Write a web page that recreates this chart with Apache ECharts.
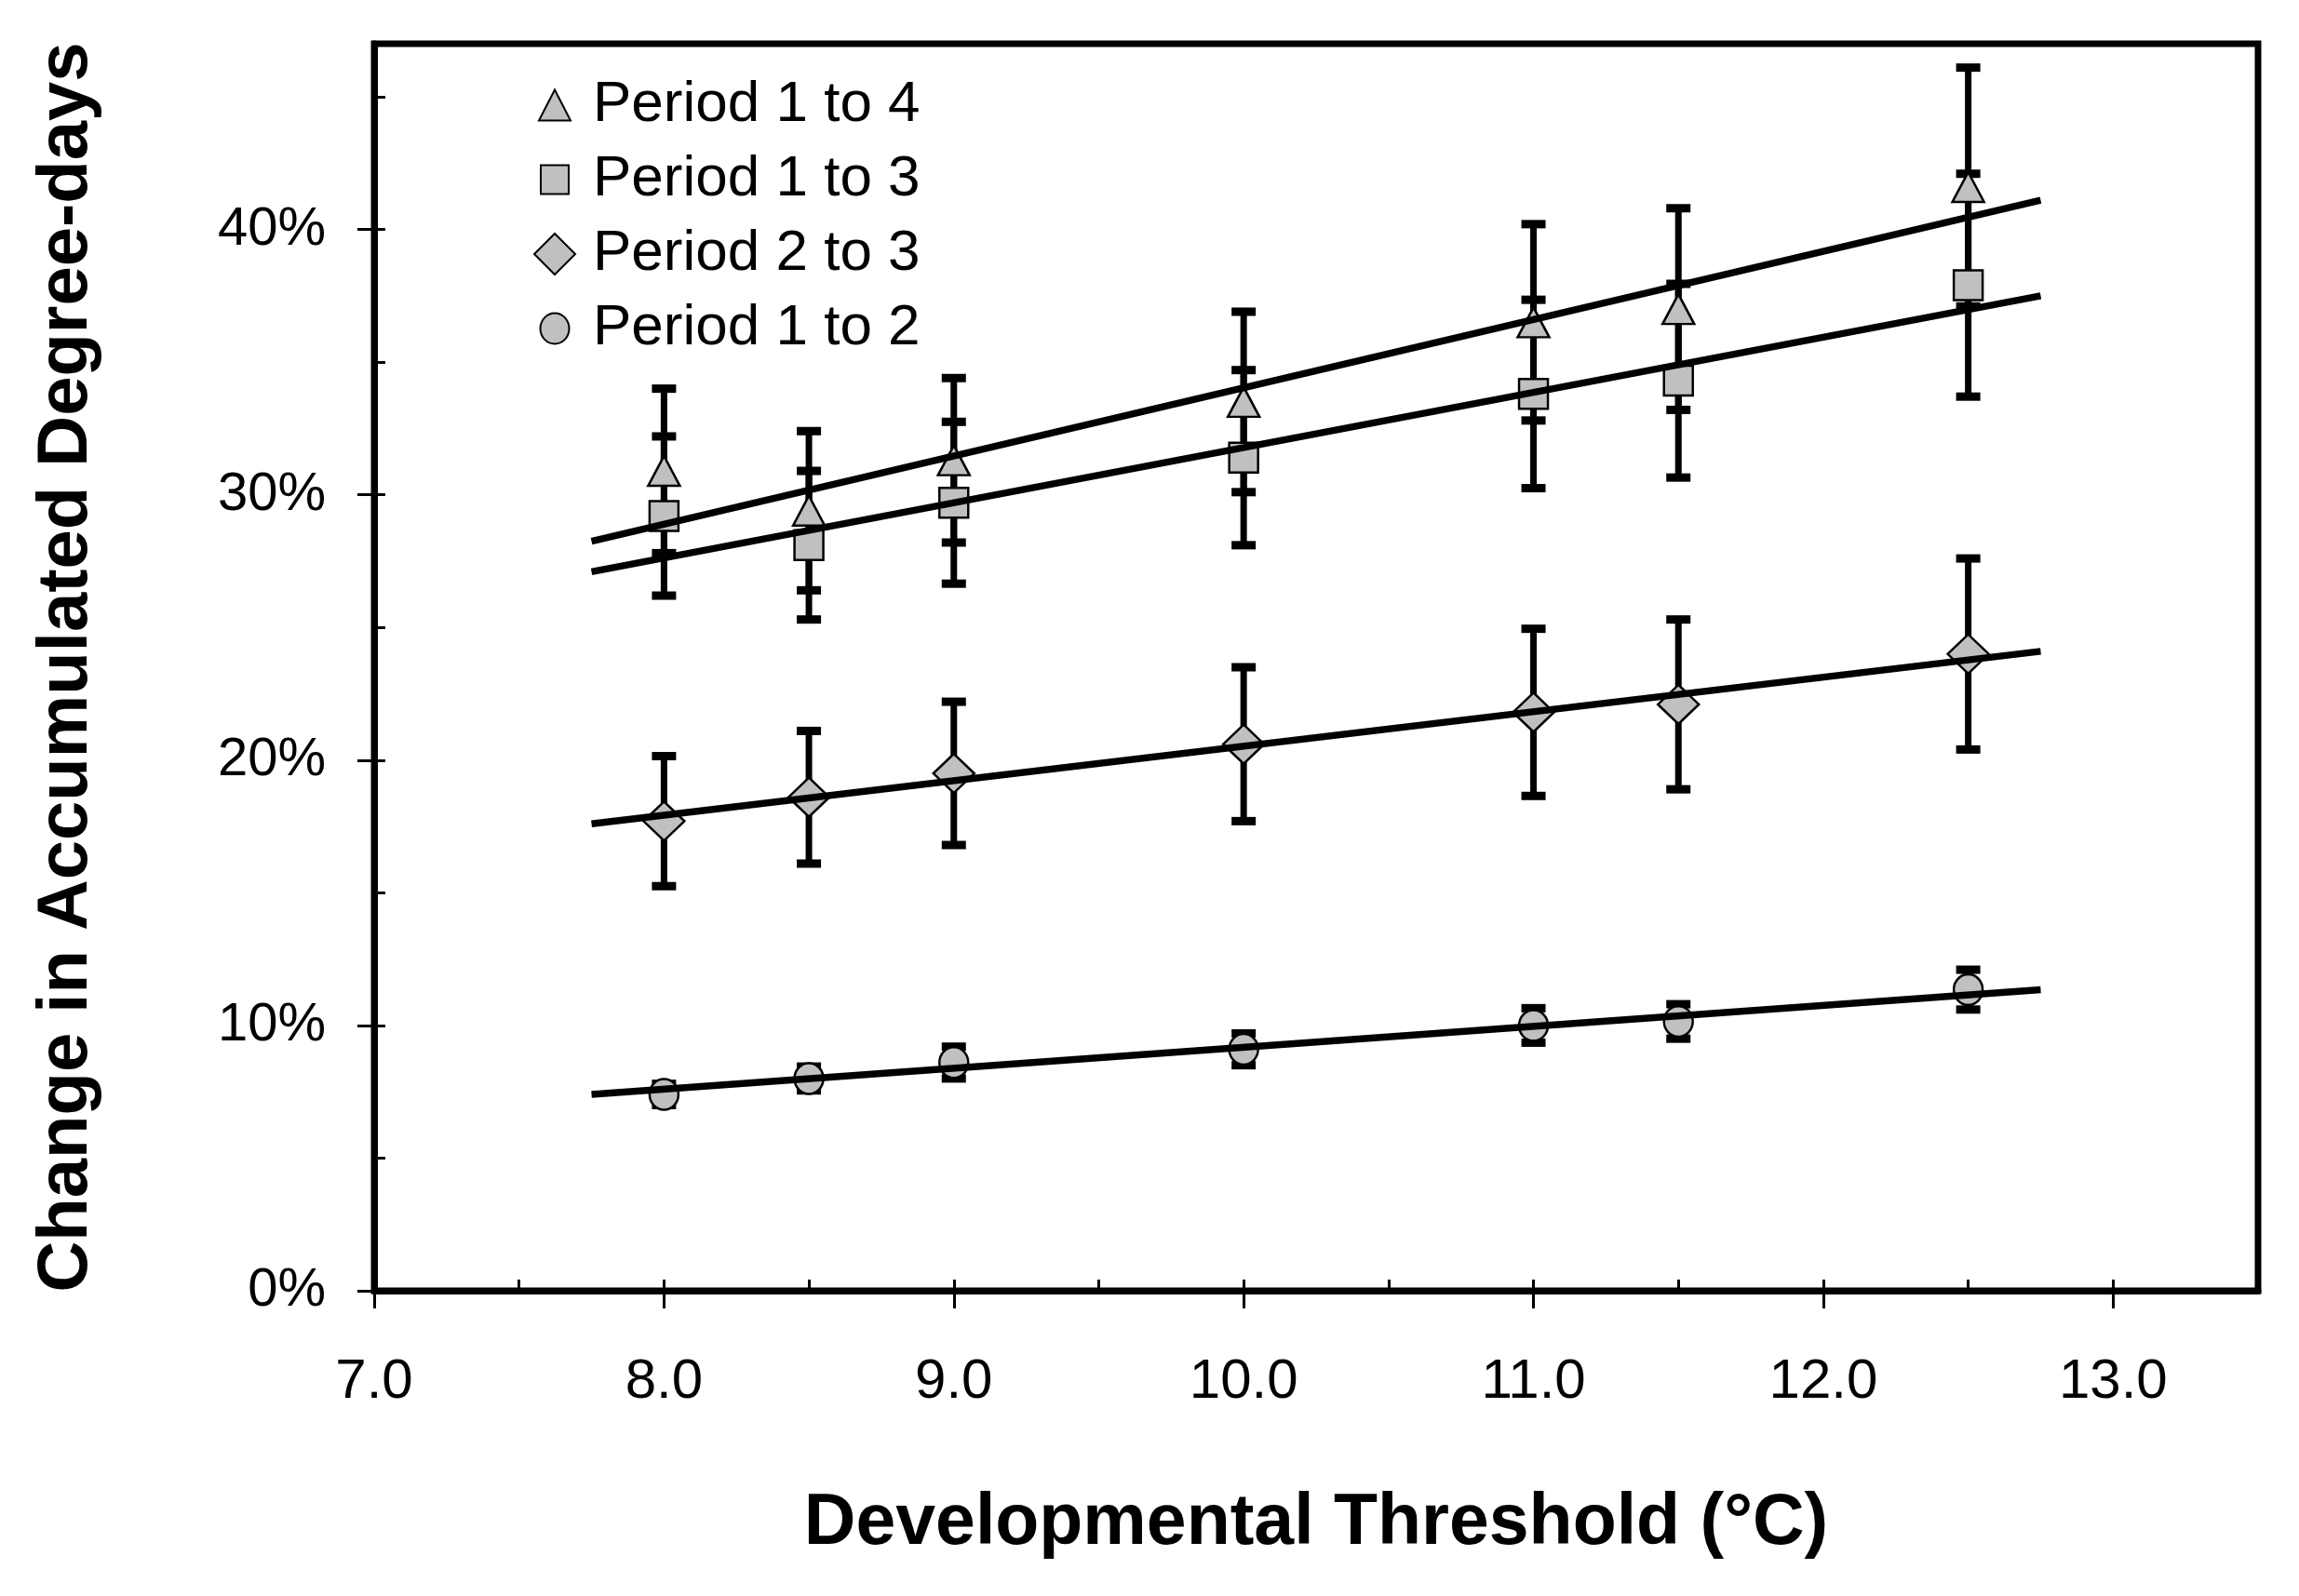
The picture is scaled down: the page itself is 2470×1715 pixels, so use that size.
<!DOCTYPE html>
<html lang="en">
<head>
    <meta charset="UTF-8">
    <title>Change in Accumulated Degree-days</title>
    <style>
        html, body { margin: 0; padding: 0; background: #fff; }
        #container { width: 2470px; height: 1715px; }
    </style>
</head>
<body>
<div id="container"></div>
<script type="text/javascript" src="https://cdn.jsdelivr.net/npm/echarts@6/dist/echarts.min.js"></script>
<script type="text/javascript">
    // Developmental thresholds (°C)
    var thresholds = [8.0, 8.5, 9.0, 10.0, 11.0, 11.5, 12.5];

    // Mean change (%) and error (+/- %) per period pair
    var period14 = [30.9, 29.4, 31.3, 33.5, 36.5, 37.0, 41.6];
    var err14 = [3.1, 3.0, 3.1, 3.4, 3.7, 3.8, 4.5];
    var period13 = [29.2, 28.1, 29.7, 31.4, 33.8, 34.3, 37.9];
    var err13 = [3.0, 2.8, 3.05, 3.3, 3.55, 3.65, 4.2];
    var period23 = [17.7, 18.6, 19.5, 20.6, 21.8, 22.1, 24.0];
    var err23 = [2.45, 2.5, 2.7, 2.9, 3.15, 3.2, 3.6];
    var period12 = [7.4, 8.0, 8.6, 9.1, 10.0, 10.15, 11.35];
    var err12 = [0.4, 0.45, 0.6, 0.6, 0.65, 0.65, 0.75];

    // Trend line end points
    var fitX = [7.75, 12.75];
    var fit14 = [28.25, 41.1];
    var fit13 = [27.1, 37.5];
    var fit23 = [17.6, 24.1];
    var fit12 = [7.4, 11.35];

    var names = ['Period 1 to 4', 'Period 1 to 3', 'Period 2 to 3', 'Period 1 to 2'];

    var font = "'Liberation Sans', Arial, Helvetica, sans-serif";
    var grey = '#c0c0c0';

    // legend icons drawn inside a 44x44 box so the smaller ones keep their size
    var pad = 'M0,0 M44,44 ';
    var legendIcons = [
        'path://' + pad + 'M22,5.5 L39,38.5 L5,38.5 Z',
        'path://' + pad + 'M7,6.5 L37,6.5 L37,37.5 L7,37.5 Z',
        'diamond',
        'path://' + pad + 'M6.5,22 A15.5,16.5 0 1,1 37.5,22 A15.5,16.5 0 1,1 6.5,22 Z'
    ];

    var dom = document.getElementById("container");
    var myChart = echarts.init(dom);

    function points(ys) {
        return thresholds.map(function (x, i) { return [x, ys[i]]; });
    }

    function bars(ys, errs) {
        return thresholds.map(function (x, i) { return [x, ys[i] - errs[i], ys[i] + errs[i]]; });
    }

    function fitLine(ys) {
        return fitX.map(function (x, i) { return [x, ys[i]]; });
    }

    function renderErrorBar(params, api) {
        var x = api.value(0);
        var top = api.coord([x, api.value(2)]);
        var bot = api.coord([x, api.value(1)]);
        var capW = 26, capH = 9;
        return {
            type: 'group',
            children: [
                {type: 'line', shape: {x1: top[0], y1: top[1], x2: bot[0], y2: bot[1]},
                    style: {stroke: '#000', lineWidth: 7}},
                {type: 'rect', shape: {x: top[0] - capW / 2, y: top[1] - capH / 2, width: capW, height: capH},
                    style: {fill: '#000'}},
                {type: 'rect', shape: {x: bot[0] - capW / 2, y: bot[1] - capH / 2, width: capW, height: capH},
                    style: {fill: '#000'}}
            ]
        };
    }

    function errorSeries(ys, errs) {
        return {
            type: 'custom',
            renderItem: renderErrorBar,
            data: bars(ys, errs),
            encode: {x: 0, y: [1, 2]},
            z: 2,
            silent: true
        };
    }

    function markerSeries(name, ys, symbol, size) {
        return {
            name: name,
            type: 'scatter',
            data: points(ys),
            symbol: symbol,
            symbolSize: size,
            itemStyle: {color: grey, borderColor: '#000', borderWidth: 2.5, opacity: 1},
            z: 3
        };
    }

    function trendSeries(ys) {
        return {
            type: 'line',
            data: fitLine(ys),
            showSymbol: false,
            symbol: 'none',
            lineStyle: {color: '#000', width: 7.5},
            z: 4,
            silent: true
        };
    }

    var option = {
        animation: false,
        backgroundColor: '#fff',
        textStyle: {fontFamily: font, color: '#000'},
        grid: {
            left: 402, top: 47, right: 44, bottom: 328,
            show: true, borderColor: '#000', borderWidth: 7, backgroundColor: 'transparent'
        },
        legend: {
            orient: 'vertical',
            left: 573,
            top: 82,
            itemWidth: 44,
            itemHeight: 44,
            itemGap: 18,
            padding: 0,
            data: names.map(function (n, i) { return {name: n, icon: legendIcons[i]}; }),
            textStyle: {fontFamily: font, fontSize: 62, color: '#000', padding: [0, 0, 0, 14]}
        },
        xAxis: [
            {
                type: 'value',
                min: 7, max: 13.5, interval: 1,
                position: 'bottom',
                axisLine: {show: true, lineStyle: {color: '#000', width: 7}},
                axisTick: {show: true, inside: false, length: 19, lineStyle: {color: '#000', width: 3}},
                axisLabel: {
                    show: true, margin: 68, fontSize: 60, color: '#000', fontFamily: font,
                    showMaxLabel: false,
                    formatter: function (v) { return v.toFixed(1); }
                },
                splitLine: {show: false},
                name: 'Developmental Threshold (°C)',
                nameLocation: 'middle',
                nameGap: 212,
                nameTextStyle: {fontFamily: font, fontSize: 77, fontWeight: 'bold', color: '#000'}
            },
            {
                type: 'value',
                min: 7, max: 13.5, interval: 0.5,
                position: 'bottom',
                axisLine: {show: false},
                axisTick: {show: true, inside: true, length: 12, lineStyle: {color: '#000', width: 3}},
                axisLabel: {show: false},
                splitLine: {show: false}
            }
        ],
        yAxis: [
            {
                type: 'value',
                min: 0, max: 47, interval: 10,
                position: 'left',
                axisLine: {show: true, lineStyle: {color: '#000', width: 7}},
                axisTick: {show: true, inside: false, length: 18, lineStyle: {color: '#000', width: 3}},
                axisLabel: {
                    show: true, margin: 52, fontSize: 58, color: '#000', fontFamily: font,
                    showMaxLabel: false,
                    formatter: '{value}%'
                },
                splitLine: {show: false},
                name: 'Change in Accumulated Degree-days',
                nameLocation: 'middle',
                nameGap: 292,
                nameTextStyle: {fontFamily: font, fontSize: 76, fontWeight: 'bold', color: '#000'}
            },
            {
                type: 'value',
                min: 0, max: 47, interval: 5,
                position: 'left',
                axisLine: {show: false},
                axisTick: {show: true, inside: true, length: 12, lineStyle: {color: '#000', width: 3}},
                axisLabel: {show: false},
                splitLine: {show: false}
            }
        ],
        series: [
            errorSeries(period14, err14),
            errorSeries(period13, err13),
            errorSeries(period23, err23),
            errorSeries(period12, err12),
            markerSeries(names[0], period14, 'triangle', [34, 32]),
            markerSeries(names[1], period13, 'rect', [31, 32]),
            markerSeries(names[2], period23, 'diamond', [44, 42]),
            markerSeries(names[3], period12, 'circle', [31, 33]),
            trendSeries(fit14),
            trendSeries(fit13),
            trendSeries(fit23),
            trendSeries(fit12)
        ]
    };

    myChart.setOption(option, true);
</script>
</body>
</html>
